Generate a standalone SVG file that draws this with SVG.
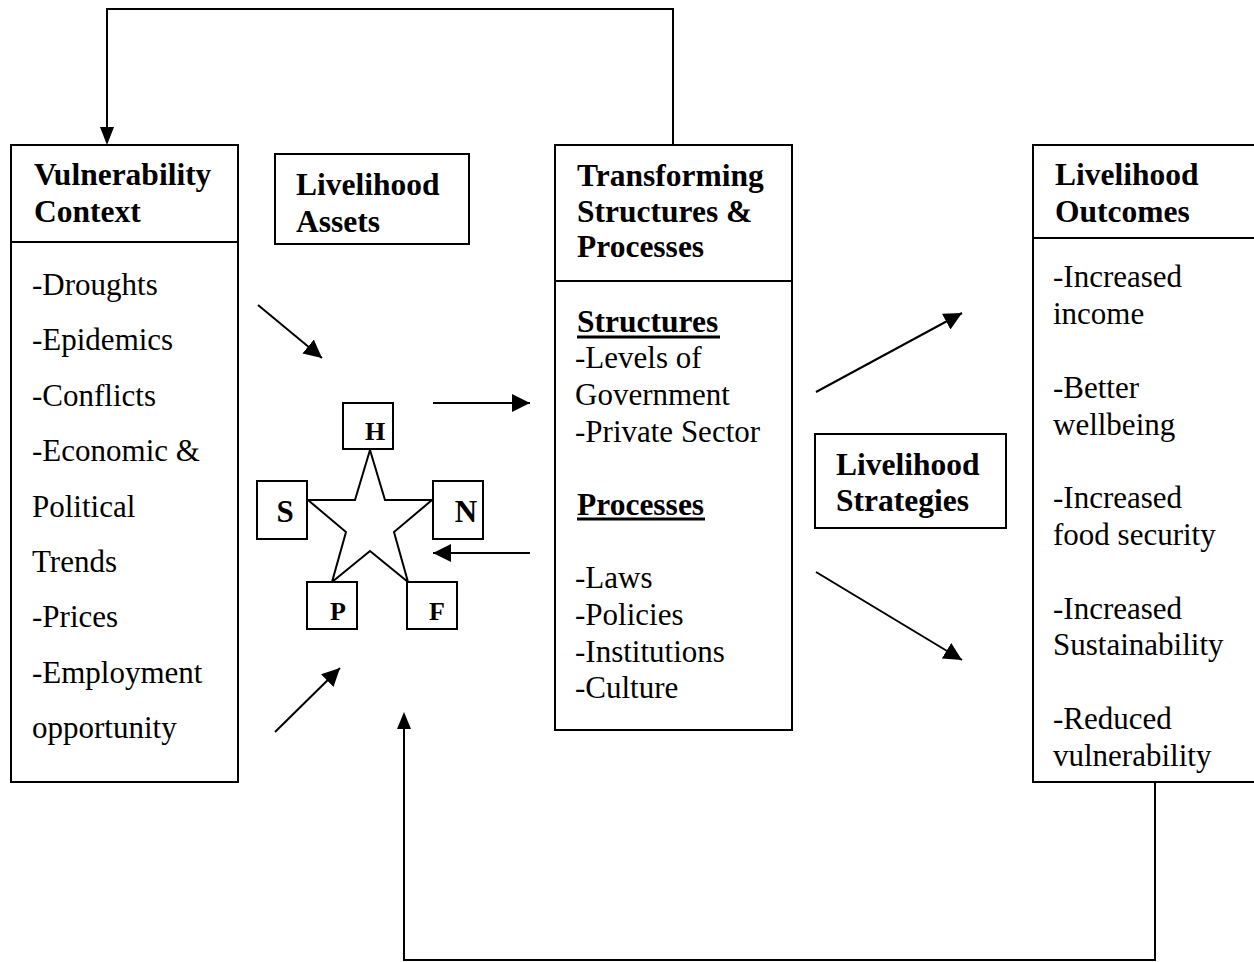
<svg xmlns="http://www.w3.org/2000/svg" width="1254" height="962" viewBox="0 0 1254 962">
<style>
.box{fill:#fff;stroke:#000;stroke-width:2}
.ln{fill:none;stroke:#000;stroke-width:2}
.ul{stroke:#000;stroke-width:3}
.b{font-family:"Liberation Serif",serif;font-weight:bold;font-size:31.5px;fill:#000}
.r{font-family:"Liberation Serif",serif;font-size:31px;fill:#000}
.s{font-family:"Liberation Serif",serif;font-weight:bold;font-size:26px;fill:#000;text-anchor:middle}
.sl{font-size:31px}
</style>
<defs>
<marker id="ah2" viewBox="0 0 10 10" refX="10" refY="5" markerWidth="9" markerHeight="9" orient="auto">
<path d="M0,0 L10,5 L0,10 z" fill="#000"/>
</marker>
</defs>
<rect width="1254" height="962" fill="#fff"/>
<g id="connectors">
<polyline class="ln" points="673,145 673,9 107,9 107,128"/>
<path d="M100,127 L114,127 L107,145 z" fill="#000"/>
<polyline class="ln" points="1155,782 1155,960 404,960 404,728"/>
<path d="M397,729 L411,729 L404,712 z" fill="#000"/>
<line class="ln" x1="258" y1="305" x2="322" y2="358" marker-end="url(#ah2)"/>
<line class="ln" x1="275" y1="732" x2="340" y2="668" marker-end="url(#ah2)"/>
<line class="ln" x1="433" y1="403" x2="530" y2="403" marker-end="url(#ah2)"/>
<line class="ln" x1="530" y1="553" x2="433" y2="553" marker-end="url(#ah2)"/>
<line class="ln" x1="816" y1="392" x2="962" y2="313" marker-end="url(#ah2)"/>
<line class="ln" x1="816" y1="572" x2="962" y2="660" marker-end="url(#ah2)"/>
</g>
<g id="vulnerability">
<rect class="box" x="11" y="145" width="227" height="637"/>
<line class="ln" x1="11" y1="242" x2="238" y2="242"/>
<text class="b" x="34" y="185">Vulnerability</text>
<text class="b" x="34" y="222">Context</text>
<text class="r" x="32" y="295">-Droughts</text>
<text class="r" x="32" y="350">-Epidemics</text>
<text class="r" x="32" y="406">-Conflicts</text>
<text class="r" x="32" y="461">-Economic &amp;</text>
<text class="r" x="32" y="517">Political</text>
<text class="r" x="32" y="572">Trends</text>
<text class="r" x="32" y="627">-Prices</text>
<text class="r" x="32" y="683">-Employment</text>
<text class="r" x="32" y="738">opportunity</text>
</g>
<g id="assets">
<rect class="box" x="275" y="154" width="194" height="90"/>
<text class="b" x="296" y="195">Livelihood</text>
<text class="b" x="296" y="232">Assets</text>
</g>
<g id="pentagon">
<polygon class="box" points="370,450 385,500 432,500 394,532 408,582 370,551 332,582 346,532 308,500 355,500"/>
<rect class="box" x="343" y="403" width="50" height="46"/>
<text class="s" x="375" y="440">H</text>
<rect class="box" x="257" y="481" width="50" height="58"/>
<text class="s sl" x="285" y="522">S</text>
<rect class="box" x="433" y="481" width="50" height="58"/>
<text class="s sl" x="466" y="522">N</text>
<rect class="box" x="307" y="582" width="50" height="47"/>
<text class="s" x="338" y="620">P</text>
<rect class="box" x="407" y="582" width="50" height="47"/>
<text class="s" x="437" y="620">F</text>
</g>
<g id="transforming">
<rect class="box" x="555" y="145" width="237" height="585"/>
<line class="ln" x1="555" y1="281" x2="792" y2="281"/>
<text class="b" x="577" y="186">Transforming</text>
<text class="b" x="577" y="222">Structures &amp;</text>
<text class="b" x="577" y="257">Processes</text>
<text class="b" x="577" y="332">Structures</text>
<line class="ul" x1="577" y1="337" x2="720" y2="337"/>
<text class="r" x="575" y="368">-Levels of</text>
<text class="r" x="575" y="405">Government</text>
<text class="r" x="575" y="442">-Private Sector</text>
<text class="b" x="577" y="515">Processes</text>
<line class="ul" x1="577" y1="519" x2="705" y2="519"/>
<text class="r" x="575" y="588">-Laws</text>
<text class="r" x="575" y="625">-Policies</text>
<text class="r" x="575" y="662">-Institutions</text>
<text class="r" x="575" y="698">-Culture</text>
</g>
<g id="strategies">
<rect class="box" x="815" y="434" width="191" height="94"/>
<text class="b" x="836" y="475">Livelihood</text>
<text class="b" x="836" y="511">Strategies</text>
</g>
<g id="outcomes">
<rect class="box" x="1033" y="145" width="230" height="637"/>
<line class="ln" x1="1033" y1="238" x2="1254" y2="238"/>
<text class="b" x="1055" y="185">Livelihood</text>
<text class="b" x="1055" y="222">Outcomes</text>
<text class="r" x="1053" y="287">-Increased</text>
<text class="r" x="1053" y="324">income</text>
<text class="r" x="1053" y="398">-Better</text>
<text class="r" x="1053" y="435">wellbeing</text>
<text class="r" x="1053" y="508">-Increased</text>
<text class="r" x="1053" y="545">food security</text>
<text class="r" x="1053" y="619">-Increased</text>
<text class="r" x="1053" y="655">Sustainability</text>
<text class="r" x="1053" y="729">-Reduced</text>
<text class="r" x="1053" y="766">vulnerability</text>
</g>
</svg>
